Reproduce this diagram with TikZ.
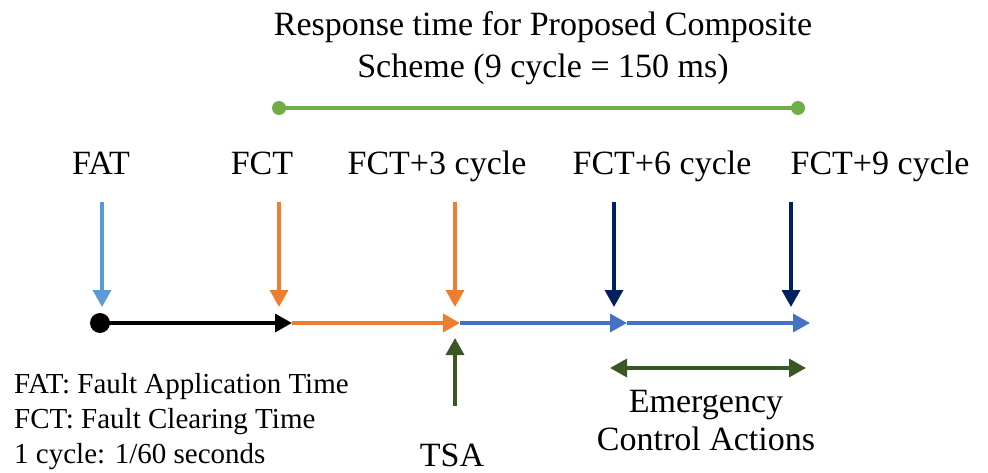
\documentclass[tikz,border=0pt]{standalone}
\usepackage{fontspec}
\setmainfont{Liberation Serif}
\usetikzlibrary{arrows.meta}
\definecolor{ltblue}{HTML}{5B9BD5}
\definecolor{orng}{HTML}{ED7D31}
\definecolor{midblue}{HTML}{4472C4}
\definecolor{navy}{HTML}{002060}
\definecolor{dkgreen}{HTML}{385723}
\definecolor{ltgreen}{HTML}{70AD47}
\tikzset{
  x=1pt, y=-1pt,
  arr/.style={line width=3.4pt, -{Triangle[width=18pt,length=17pt]}},
  dblarr/.style={line width=3.4pt, {Triangle[width=18pt,length=17pt]}-{Triangle[width=18pt,length=17pt]}},
  lbl/.style={font=\fontsize{34}{40}\selectfont, inner sep=0pt, anchor=base},
  legend/.style={font=\fontsize{29}{35}\selectfont, inner sep=0pt, anchor=base west, align=left},
}
\begin{document}
\begin{tikzpicture}
\useasboundingbox (0,0) rectangle (988,473);

% title and response-time bar (base anchor sits on the last line)
\node[lbl, align=center, font=\fontsize{34}{42}\selectfont] (title) at (543,78)
  {Response time for Proposed Composite\\Scheme (9 cycle = 150 ms)};
\coordinate (rs) at (279,108);
\coordinate (re) at (798,108);
\draw[ltgreen, line width=4pt] (rs) -- (re);
\fill[ltgreen] (rs) circle (7) (re) circle (7);

% event labels
\node[lbl] (fat) at (101,175) {FAT};
\node[lbl] (fct) at (262,175) {FCT};
\node[lbl] (fct3) at (437,175) {FCT+3 cycle};
\node[lbl] (fct6) at (662,175) {FCT+6 cycle};
\node[lbl] (fct9) at (880,175) {FCT+9 cycle};

% time axis points
\coordinate (t0) at (100,323);
\coordinate (t1) at (292,323);
\coordinate (t2) at (460,323);
\coordinate (t3) at (627,323);
\coordinate (t4) at (810,323);

% event arrows
\coordinate (a0) at (102,202);
\coordinate (a0e) at (102,307);
\coordinate (a1) at (279,202);
\coordinate (a1e) at (279,307);
\coordinate (a2) at (455,202);
\coordinate (a2e) at (455,307);
\coordinate (a3) at (614,202);
\coordinate (a3e) at (614,307);
\coordinate (a4) at (791,202);
\coordinate (a4e) at (791,307);
\draw[arr, ltblue] (a0) -- (a0e);
\draw[arr, orng] (a1) -- (a1e);
\draw[arr, orng] (a2) -- (a2e);
\draw[arr, navy] (a3) -- (a3e);
\draw[arr, navy] (a4) -- (a4e);

% axis segments
\draw[arr, black] (t0) -- (t1);
\draw[arr, orng] (t1) -- (t2);
\draw[arr, midblue] (t2) -- (t3);
\draw[arr, midblue] (t3) -- (t4);
\fill[black] (t0) circle (10);

% TSA
\node[lbl] (tsa) at (452,466) {TSA};
\coordinate (tsab) at (455,406);
\coordinate (tsat) at (455,338);
\draw[arr, dkgreen] (tsab) -- (tsat);

% emergency control window
\coordinate (el) at (610,368);
\coordinate (er) at (806,368);
\draw[dblarr, dkgreen] (el) -- (er);
\node[lbl, align=center, font=\fontsize{34}{38}\selectfont] (eca) at (706,450)
  {Emergency\\Control Actions};

% legend
\node[legend] (leg) at (14,463)
  {FAT: Fault Application Time\\FCT: Fault Clearing Time\\1 cycle: 1/60 seconds};
\end{tikzpicture}
\end{document}
